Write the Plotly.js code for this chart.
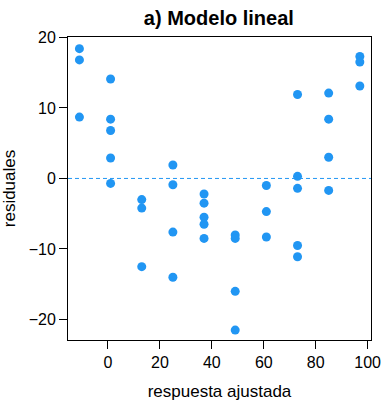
<!DOCTYPE html>
<html>
<head>
<meta charset="utf-8">
<script src="https://cdn.plot.ly/plotly-3.0.1.min.js"></script>
<style>html,body{margin:0;padding:0;background:#fff;}</style>
</head>
<body>
<div id="chart" style="width:384px;height:404px;"></div>
<script>
// fitted response (x) and residuals (y)
const fitted = [
  -11, -11, -11,
  1, 1, 1, 1, 1,
  13, 13, 13,
  25, 25, 25, 25,
  37, 37, 37, 37, 37,
  49, 49, 49, 49,
  61, 61, 61,
  73, 73, 73, 73, 73,
  85, 85, 85, 85,
  97, 97, 97
];
const residuals = [
  18.4, 16.8, 8.7,
  14.1, 8.4, 6.8, 2.9, -0.7,
  -3.0, -4.2, -12.5,
  1.9, -0.9, -7.6, -14.0,
  -2.2, -3.5, -5.5, -6.5, -8.5,
  -8.0, -8.5, -16.0, -21.5,
  -1.0, -4.7, -8.3,
  11.9, 0.3, -1.4, -9.5, -11.1,
  12.1, 8.4, 3.0, -1.7,
  17.3, 16.5, 13.1
];
const refLine = [0];
const xTicks = [0, 20, 40, 60, 80, 100];
const yTicks = [-20, -10, 0, 10, 20];
const yTickText = ['\u221220', '\u221210', '0', '10', '20'];

const blue = '#2196F3';
const font = 'Liberation Sans, Arial, Helvetica, sans-serif';

const trace = {
  x: fitted, y: residuals, type: 'scatter', mode: 'markers',
  marker: {color: blue, size: 9},
  hoverinfo: 'skip', showlegend: false
};

const layout = {
  width: 384, height: 404,
  margin: {l: 68, r: 13, t: 37, b: 64},
  paper_bgcolor: '#fff', plot_bgcolor: '#fff',
  font: {family: font, size: 16, color: '#000'},
  title: {text: '<b>a) Modelo lineal</b>', x: 0.57, xanchor: 'center', y: 0.955, yanchor: 'middle',
          font: {family: font, size: 20, color: '#000'}},
  xaxis: {
    range: [-15.4, 101.3], tickvals: xTicks, ticktext: xTicks.map(String),
    showgrid: false, zeroline: false, showline: true, mirror: true,
    linecolor: '#000', linewidth: 1, ticks: 'outside', ticklen: 8, tickcolor: '#000',
    tickfont: {size: 16},
    title: {text: 'respuesta ajustada', font: {size: 17}, standoff: 14}
  },
  yaxis: {
    range: [-22.9, 20.05], tickvals: yTicks, ticktext: yTickText,
    showgrid: false, zeroline: false, showline: true, mirror: true,
    linecolor: '#000', linewidth: 1, ticks: 'outside', ticklen: 8, tickcolor: '#000',
    tickfont: {size: 16},
    title: {text: 'residuales', font: {size: 17}, standoff: 8}
  },
  shapes: refLine.map(v => ({
    type: 'line', xref: 'paper', x0: 0, x1: 1, yref: 'y', y0: v, y1: v,
    line: {color: blue, width: 1, dash: '4px,3px'}, layer: 'below'
  }))
};

Plotly.newPlot('chart', [trace], layout, {displayModeBar: false, staticPlot: true});
</script>
</body>
</html>
